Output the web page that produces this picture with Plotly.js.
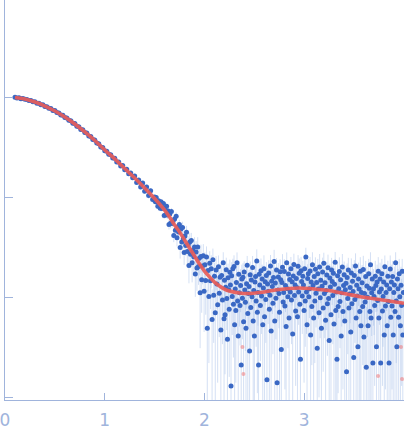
<!DOCTYPE html>
<html>
<head>
<meta charset="utf-8">
<script src="https://cdn.plot.ly/plotly-3.0.1.min.js"></script>
<style>html,body{margin:0;padding:0;background:#fff;}#chart{width:404px;height:438px;}</style>
</head>
<body>
<div id="chart"></div>
<script>
// ---- data ----
const qLow = [0.10,0.12,0.14,0.16,0.18,0.20,0.22,0.24,0.26,0.28,0.30,0.32,0.34,0.36,0.38,0.40,0.42,0.44,0.46,0.48,0.50,0.52,0.54,0.56,0.58,0.60,0.62,0.64,0.66,0.68,0.70,0.72,0.74,0.76,0.78,0.80,0.82,0.84,0.86,0.88,0.90,0.92,0.94,0.96,0.98,1.00,1.02,1.04,1.06,1.08,1.10,1.12,1.14,1.16,1.18,1.20,1.22,1.24,1.26,1.28,1.30,1.32,1.34,1.36,1.38,1.40,1.42,1.44,1.46,1.48];
const iLow = [1.003,0.984,0.990,0.968,0.974,0.955,0.953,0.929,0.928,0.903,0.902,0.874,0.871,0.842,0.840,0.811,0.806,0.776,0.771,0.739,0.736,0.703,0.697,0.664,0.660,0.628,0.622,0.589,0.584,0.551,0.547,0.514,0.508,0.477,0.473,0.444,0.439,0.410,0.405,0.379,0.375,0.349,0.343,0.319,0.314,0.292,0.289,0.269,0.266,0.247,0.246,0.226,0.225,0.206,0.208,0.189,0.191,0.172,0.175,0.157,0.163,0.141,0.149,0.127,0.139,0.115,0.127,0.104,0.116,0.095];
const eLow = [0.004,0.004,0.004,0.004,0.004,0.004,0.004,0.004,0.004,0.004,0.004,0.004,0.004,0.004,0.004,0.004,0.004,0.004,0.004,0.004,0.004,0.004,0.004,0.004,0.004,0.004,0.004,0.004,0.004,0.004,0.004,0.004,0.004,0.004,0.004,0.005,0.005,0.005,0.005,0.005,0.005,0.005,0.005,0.005,0.005,0.005,0.005,0.005,0.005,0.005,0.006,0.006,0.006,0.006,0.006,0.006,0.006,0.006,0.006,0.006,0.007,0.007,0.007,0.007,0.007,0.007,0.007,0.007,0.007,0.007];

const qMid = [1.500,1.508,1.516,1.524,1.532,1.540,1.548,1.556,1.564,1.572,
1.580,1.588,1.596,1.604,1.612,1.620,1.628,1.636,1.644,1.652,
1.660,1.668,1.676,1.684,1.692,1.700,1.708,1.716,1.724,1.732,
1.740,1.748,1.756,1.764,1.772,1.780,1.788,1.796,1.804,1.812,
1.820,1.828,1.836,1.844,1.852,1.860,1.868,1.876,1.884,1.892,
1.900,1.908,1.916,1.924,1.932,1.940,1.948,1.956,1.964,1.972,
1.980,1.988,1.996,2.004,2.012,2.020,2.028,2.036,2.044,2.052,
2.060,2.068,2.076,2.084,2.092,2.100,2.108,2.116,2.124,2.132,
2.140,2.148,2.156,2.164,2.172,2.180,2.188,2.196];
const iMid = [0.1005,0.0905,0.0997,0.0898,0.0815,0.0924,0.0873,0.0775,0.0901,0.0772,
0.0787,0.0866,0.0658,0.0769,0.0670,0.0812,0.0666,0.0729,0.0536,0.0679,
0.0549,0.0723,0.0546,0.0577,0.0416,0.0608,0.0467,0.0646,0.0393,0.0508,
0.0450,0.0536,0.0314,0.0483,0.0358,0.0500,0.0390,0.0281,0.0411,0.0330,
0.0448,0.0287,0.0337,0.0208,0.0358,0.0269,0.0370,0.0221,0.0293,0.0255,
0.0319,0.0171,0.0284,0.0196,0.0319,0.0203,0.0246,0.0111,0.0256,0.0150,
0.0205,0.0260,0.0115,0.0211,0.0147,0.0253,0.0049,0.0185,0.0102,0.0219,
0.0146,0.0193,0.0060,0.0237,0.0105,0.0162,0.0070,0.0188,0.0136,0.0084,
0.0202,0.0110,0.0159,0.0047,0.0165,0.0094,0.0222,0.0061];
const eMid = [0.004,0.004,0.005,0.004,0.004,0.005,0.004,0.005,0.004,0.005,
0.005,0.005,0.005,0.006,0.005,0.005,0.006,0.005,0.006,0.005,
0.006,0.006,0.005,0.006,0.006,0.007,0.006,0.006,0.007,0.006,
0.007,0.006,0.007,0.007,0.006,0.007,0.007,0.007,0.006,0.007,
0.007,0.008,0.007,0.007,0.008,0.007,0.007,0.008,0.007,0.008,
0.008,0.007,0.008,0.008,0.008,0.007,0.008,0.008,0.008,0.008,
0.007,0.008,0.007,0.007,0.008,0.007,0.007,0.007,0.008,0.007,
0.007,0.007,0.006,0.007,0.007,0.006,0.007,0.007,0.006,0.007,
0.006,0.007,0.006,0.006,0.007,0.006,0.006,0.006];

const qHigh = [2.200,2.206,2.212,2.218,2.224,2.230,2.236,2.242,2.248,2.254,
2.260,2.266,2.272,2.278,2.284,2.290,2.296,2.302,2.308,2.314,
2.320,2.326,2.332,2.338,2.344,2.350,2.356,2.362,2.368,2.374,
2.380,2.386,2.392,2.398,2.404,2.410,2.416,2.422,2.428,2.434,
2.440,2.446,2.452,2.458,2.464,2.470,2.476,2.482,2.488,2.494,
2.500,2.506,2.512,2.518,2.524,2.530,2.536,2.542,2.548,2.554,
2.560,2.566,2.572,2.578,2.584,2.590,2.596,2.602,2.608,2.614,
2.620,2.626,2.632,2.638,2.644,2.650,2.656,2.662,2.668,2.674,
2.680,2.686,2.692,2.698,2.704,2.710,2.716,2.722,2.728,2.734,
2.740,2.746,2.752,2.758,2.764,2.770,2.776,2.782,2.788,2.794,
2.800,2.806,2.812,2.818,2.824,2.830,2.836,2.842,2.848,2.854,
2.860,2.866,2.872,2.878,2.884,2.890,2.896,2.902,2.908,2.914,
2.920,2.926,2.932,2.938,2.944,2.950,2.956,2.962,2.968,2.974,
2.980,2.986,2.992,2.998,3.004,3.010,3.016,3.022,3.028,3.034,
3.040,3.046,3.052,3.058,3.064,3.070,3.076,3.082,3.088,3.094,
3.100,3.106,3.112,3.118,3.124,3.130,3.136,3.142,3.148,3.154,
3.160,3.166,3.172,3.178,3.184,3.190,3.196,3.202,3.208,3.214,
3.220,3.226,3.232,3.238,3.244,3.250,3.256,3.262,3.268,3.274,
3.280,3.286,3.292,3.298,3.304,3.310,3.316,3.322,3.328,3.334,
3.340,3.346,3.352,3.358,3.364,3.370,3.376,3.382,3.388,3.394,
3.400,3.406,3.412,3.418,3.424,3.430,3.436,3.442,3.448,3.454,
3.460,3.466,3.472,3.478,3.484,3.490,3.496,3.502,3.508,3.514,
3.520,3.526,3.532,3.538,3.544,3.550,3.556,3.562,3.568,3.574,
3.580,3.586,3.592,3.598,3.604,3.610,3.616,3.622,3.628,3.634,
3.640,3.646,3.652,3.658,3.664,3.670,3.676,3.682,3.688,3.694,
3.700,3.706,3.712,3.718,3.724,3.730,3.736,3.742,3.748,3.754,
3.760,3.766,3.772,3.778,3.784,3.790,3.796,3.802,3.808,3.814,
3.820,3.826,3.832,3.838,3.844,3.850,3.856,3.862,3.868,3.874,
3.880,3.886,3.892,3.898,3.904,3.910,3.916,3.922,3.928,3.934,
3.940,3.946,3.952,3.958,3.964,3.970,3.976,3.982,3.988,3.994];
const iHigh = [0.0148,0.0067,0.0126,0.0189,0.0097,0.0038,0.0157,0.0119,0.0076,0.0178,
0.0133,0.0013,0.0164,0.0102,0.0193,0.0085,0.0203,0.0053,0.0121,0.0074,
0.0141,0.0221,0.0092,0.0041,0.0170,0.0111,0.0083,0.0131,0.0021,0.0152,
0.0098,0.0159,0.0057,0.0179,0.0118,0.0089,0.0049,0.0137,0.0209,0.0069,
0.0109,0.0128,0.0029,0.0168,0.0079,0.0149,0.0101,0.0199,0.0058,0.0117,
0.0041,0.0142,0.0161,0.0092,0.0231,0.0071,0.0112,0.0021,0.0170,0.0133,
0.0083,0.0184,0.0103,0.0152,0.0053,0.0124,0.0193,0.0064,0.0143,0.0095,
0.0165,0.0015,0.0136,0.0114,0.0175,0.0076,0.0105,0.0205,0.0046,0.0145,
0.0128,0.0087,0.0158,0.0228,0.0058,0.0139,0.0098,0.0187,0.0014,0.0118,
0.0160,0.0109,0.0071,0.0180,0.0150,0.0030,0.0141,0.0200,0.0090,0.0112,
0.0181,0.0082,0.0131,0.0051,0.0221,0.0122,0.0101,0.0171,0.0062,0.0151,
0.0113,0.0193,0.0094,0.0143,0.0043,0.0163,0.0213,0.0104,0.0133,0.0073,
0.0154,0.0125,0.0064,0.0204,0.0113,0.0174,0.0085,0.0024,0.0184,0.0144,
0.0103,0.0162,0.0133,0.0074,0.0193,0.0092,0.0253,0.0113,0.0053,0.0154,
0.0172,0.0101,0.0122,0.0183,0.0042,0.0142,0.0081,0.0212,0.0131,0.0062,
0.0161,0.0092,0.0191,0.0110,0.0141,0.0031,0.0172,0.0121,0.0070,0.0201,
0.0099,0.0148,0.0049,0.0129,0.0179,0.0078,0.0219,0.0109,0.0140,0.0059,
0.0117,0.0167,0.0086,0.0197,0.0097,0.0037,0.0156,0.0127,0.0067,0.0188,
0.0144,0.0104,0.0174,0.0054,0.0135,0.0224,0.0074,0.0113,0.0024,0.0164,
0.0081,0.0122,0.0181,0.0091,0.0150,0.0041,0.0111,0.0201,0.0072,0.0131,
0.0168,0.0058,0.0119,0.0138,0.0018,0.0158,0.0097,0.0188,0.0078,0.0108,
0.0125,0.0045,0.0175,0.0086,0.0145,0.0114,0.0025,0.0165,0.0095,0.0205,
0.0062,0.0132,0.0103,0.0032,0.0152,0.0121,0.0072,0.0182,0.0052,0.0112,
0.0140,0.0081,0.0190,0.0040,0.0109,0.0090,0.0161,0.0020,0.0130,0.0100,
0.0052,0.0172,0.0123,0.0072,0.0212,0.0062,0.0111,0.0152,0.0022,0.0122,
0.0102,0.0083,0.0162,0.0131,0.0032,0.0142,0.0093,0.0182,0.0062,0.0113,
0.0152,0.0022,0.0121,0.0172,0.0073,0.0102,0.0142,0.0042,0.0202,0.0082,
0.0112,0.0133,0.0052,0.0162,0.0091,0.0022,0.0122,0.0192,0.0063,0.0142,
0.0082,0.0161,0.0042,0.0112,0.0133,0.0072,0.0222,0.0092,0.0032,0.0152,
0.0122,0.0063,0.0172,0.0101,0.0052,0.0132,0.0083,0.0182,0.0042,0.0112];
const eHigh = [0.006,0.005,0.006,0.006,0.005,0.006,0.006,0.005,0.006,0.006,
0.005,0.006,0.006,0.006,0.005,0.006,0.006,0.006,0.005,0.006,
0.006,0.006,0.005,0.006,0.006,0.006,0.005,0.006,0.006,0.006,
0.006,0.006,0.006,0.005,0.006,0.006,0.006,0.006,0.005,0.006,
0.006,0.006,0.006,0.006,0.005,0.006,0.006,0.006,0.006,0.006,
0.006,0.006,0.006,0.006,0.007,0.006,0.006,0.006,0.006,0.006,
0.006,0.006,0.006,0.006,0.006,0.006,0.007,0.006,0.006,0.006,
0.006,0.006,0.006,0.006,0.006,0.007,0.006,0.006,0.006,0.006,
0.006,0.006,0.006,0.007,0.006,0.006,0.006,0.006,0.006,0.006,
0.006,0.006,0.007,0.006,0.006,0.006,0.006,0.007,0.006,0.006,
0.006,0.007,0.006,0.006,0.006,0.006,0.007,0.006,0.006,0.006,
0.007,0.006,0.006,0.006,0.007,0.006,0.006,0.006,0.007,0.006,
0.006,0.006,0.007,0.006,0.006,0.007,0.006,0.006,0.007,0.006,
0.006,0.007,0.006,0.006,0.007,0.006,0.006,0.007,0.006,0.006,
0.007,0.006,0.006,0.007,0.006,0.006,0.006,0.007,0.006,0.007,
0.006,0.007,0.006,0.006,0.007,0.006,0.007,0.006,0.006,0.007,
0.006,0.006,0.007,0.006,0.007,0.006,0.006,0.007,0.006,0.006,
0.007,0.006,0.006,0.007,0.006,0.007,0.006,0.006,0.007,0.006,
0.006,0.007,0.006,0.007,0.006,0.006,0.007,0.006,0.007,0.006,
0.007,0.006,0.007,0.006,0.006,0.007,0.006,0.007,0.006,0.007,
0.006,0.007,0.006,0.007,0.007,0.006,0.007,0.006,0.007,0.006,
0.007,0.006,0.007,0.006,0.007,0.007,0.006,0.007,0.006,0.007,
0.006,0.007,0.007,0.006,0.007,0.006,0.007,0.007,0.006,0.007,
0.007,0.006,0.007,0.007,0.006,0.007,0.007,0.006,0.007,0.006,
0.007,0.007,0.006,0.007,0.007,0.006,0.007,0.007,0.006,0.007,
0.006,0.007,0.007,0.006,0.007,0.007,0.006,0.007,0.007,0.006,
0.007,0.007,0.006,0.007,0.006,0.007,0.007,0.007,0.006,0.007,
0.007,0.006,0.007,0.007,0.007,0.006,0.007,0.007,0.006,0.007,
0.007,0.007,0.006,0.007,0.007,0.007,0.006,0.007,0.007,0.006,
0.007,0.006,0.007,0.007,0.006,0.007,0.007,0.006,0.007,0.007];

// points flagged (drawn pale red)
const qFlag = [2.38,2.39,3.74,3.97,3.98];
const iFlag = [0.00318,0.00171,0.00163,0.00318,0.00152];

// fitted model curve
const qFit = [0.10,0.20,0.30,0.40,0.50,0.60,0.70,0.80,0.90,1.00,1.10,1.20,1.30,1.40,1.50,1.60,1.65,1.70,1.75,1.80,1.85,1.90,1.95,2.00,2.05,2.10,2.15,2.20,2.25,2.35,2.45,2.55,2.65,2.75,2.85,2.95,3.05,3.15,3.25,3.35,3.45,3.55,3.65,3.75,3.85,4.00];
const iFit = [0.995,0.962,0.897,0.818,0.730,0.635,0.541,0.450,0.370,0.297,0.242,0.194,0.156,0.124,0.0973,0.0746,0.0635,0.0528,0.0450,0.0374,0.0311,0.0259,0.0215,0.0183,0.0160,0.0142,0.0130,0.0121,0.01156,0.01104,0.01091,0.01117,0.01156,0.01197,0.01225,0.01239,0.01225,0.01197,0.01169,0.01117,0.01067,0.01019,0.00984,0.00951,0.00918,0.00872];

const xTicks = [0,1,2,3];
const xTickText = ['0','1','2','3'];
const yTicks = [0.001,0.01,0.1,1];

const q = qLow.concat(qMid, qHigh);
const I = iLow.concat(iMid, iHigh);
const E = eLow.concat(eMid, eHigh);

const axisCol = '#a0b4dc';

const traces = [
  {
    x: q, y: I, type: 'scatter', mode: 'markers',
    marker: {color: '#3a68c4', size: 5},
    error_y: {type: 'data', array: E, visible: true, color: 'rgba(160,186,230,0.45)', thickness: 1, width: 0},
    hoverinfo: 'none', showlegend: false
  },
  {
    x: qFlag, y: iFlag, type: 'scatter', mode: 'markers',
    marker: {color: 'rgba(240,120,120,0.55)', size: 4},
    hoverinfo: 'none', showlegend: false
  },
  {
    x: qFit, y: iFit, type: 'scatter', mode: 'lines',
    line: {color: 'rgba(232,92,88,0.92)', width: 3.6, shape: 'spline', smoothing: 0.8},
    hoverinfo: 'none', showlegend: false
  }
];

const layout = {
  width: 404, height: 438,
  margin: {l: 5, r: 0, t: 0, b: 38, pad: 0},
  paper_bgcolor: '#ffffff', plot_bgcolor: '#ffffff',
  showlegend: false,
  xaxis: {
    range: [0, 4], tickvals: xTicks, ticktext: xTickText,
    ticks: 'inside', ticklen: 7, tickcolor: axisCol, tickwidth: 1,
    showline: true, linecolor: axisCol, linewidth: 1,
    showgrid: false, zeroline: false,
    ticklabeloverflow: 'allow', ticklabelstandoff: 5,
    tickfont: {family: 'DejaVu Sans', size: 17, color: axisCol}
  },
  yaxis: {
    type: 'log', range: [-3.027, 0.973], tickvals: yTicks,
    ticks: 'inside', ticklen: 8, tickcolor: axisCol, tickwidth: 1,
    showticklabels: false,
    showline: true, linecolor: axisCol, linewidth: 1,
    showgrid: false, zeroline: false
  }
};

Plotly.newPlot('chart', traces, layout, {displayModeBar: false, staticPlot: true});
</script>
</body>
</html>
